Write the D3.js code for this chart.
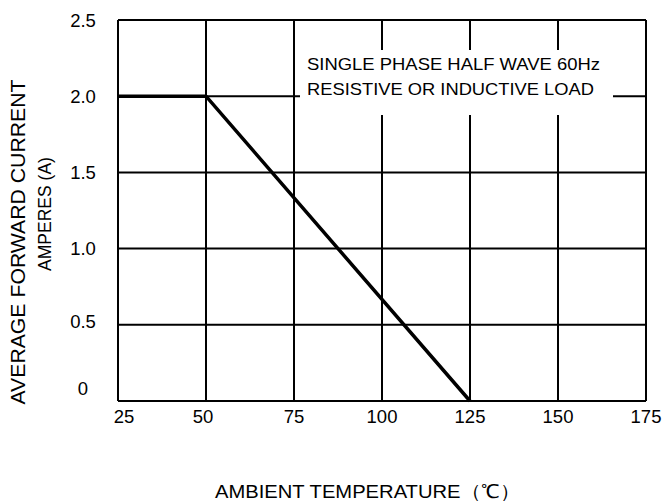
<!DOCTYPE html>
<html><head><meta charset="utf-8">
<script src="https://cdn.jsdelivr.net/npm/d3@7"></script>
<style>body{margin:0;background:#fff}svg{display:block}text{font-family:"Liberation Sans",Arial,sans-serif;fill:#000}</style>
</head><body>
<script>
const xTicks = [25, 50, 75, 100, 125, 150, 175];
const yTicks = [0, 0.5, 1.0, 1.5, 2.0, 2.5];
const yTickLabels = ["0", "0.5", "1.0", "1.5", "2.0", "2.5"];
const temps = [25, 50, 125];
const current = [2.0, 2.0, 0];
const noteLines = ["SINGLE PHASE HALF WAVE 60Hz", "RESISTIVE OR INDUCTIVE LOAD"];

const W = 663, H = 501;
const m = {l: 118, r: 17, t: 20, b: 100};
const svg = d3.select("body").append("svg").attr("width", W).attr("height", H);
const x = d3.scaleLinear().domain([25, 175]).range([m.l, W - m.r]);
const y = d3.scaleLinear().domain([0, 2.5]).range([H - m.b, m.t]);

const g = svg.append("g");
g.selectAll(".vg").data(xTicks).join("line")
  .attr("x1", d => x(d)).attr("x2", d => x(d)).attr("y1", y(0)).attr("y2", y(2.5))
  .attr("stroke", "#000").attr("stroke-width", 2);
g.selectAll(".hg").data(yTicks).join("line")
  .attr("y1", d => y(d)).attr("y2", d => y(d)).attr("x1", x(25)).attr("x2", x(175))
  .attr("stroke", "#000").attr("stroke-width", 2);

// annotation box (white background)
svg.append("rect").attr("x", 300).attr("y", 50).attr("width", 313).attr("height", 65).attr("fill", "#fff");
const noteLen = [293, 287];
svg.selectAll(".note").data(noteLines).join("text")
  .attr("x", 307).attr("y", (d, i) => 70 + i * 24.5)
  .attr("font-size", 17).attr("textLength", (d, i) => noteLen[i]).attr("lengthAdjust", "spacingAndGlyphs")
  .text(d => d);

// curve
const line = d3.line().x(d => x(d[0])).y(d => y(d[1]));
svg.append("path").datum(temps.map((t, i) => [t, current[i]]))
  .attr("d", line).attr("fill", "none").attr("stroke", "#000").attr("stroke-width", 3.5);

// y tick labels
svg.selectAll(".yl").data(yTicks).join("text")
  .attr("x", 83).attr("y", d => y(d) + (d === 0 ? -6 : d === 0.5 ? 3 : 6.5))
  .attr("text-anchor", "middle").attr("font-size", 18.5).text((d, i) => yTickLabels[i]);
// x tick labels
svg.selectAll(".xl").data(xTicks).join("text")
  .attr("x", d => x(d) + (d === 25 ? 6 : d === 50 ? -3 : 0)).attr("y", y(0) + 21.5)
  .attr("text-anchor", "middle").attr("font-size", 18.5).text(d => d);

// axis titles
svg.append("text").attr("x", 215).attr("y", 498).attr("font-size", 19)
  .attr("textLength", 305).attr("lengthAdjust", "spacingAndGlyphs").text("AMBIENT TEMPERATURE（℃）");
svg.append("text").attr("transform", "translate(25,242) rotate(-90)").attr("text-anchor", "middle")
  .attr("font-size", 21).attr("textLength", 325).attr("lengthAdjust", "spacingAndGlyphs").text("AVERAGE FORWARD CURRENT");
svg.append("text").attr("transform", "translate(51,214) rotate(-90)").attr("text-anchor", "middle")
  .attr("font-size", 17.5).text("AMPERES (A)");
</script>
</body></html>
